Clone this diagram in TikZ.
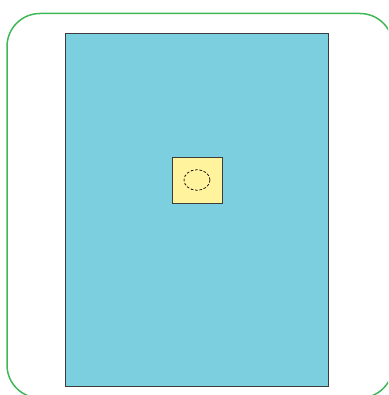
\documentclass[tikz,border=0pt]{standalone}
\usepackage{xcolor}
\usepackage{tikz}
\usetikzlibrary{positioning}
\definecolor{framegreen}{RGB}{62,184,84}
\definecolor{sheetblue}{RGB}{123,207,223}
\definecolor{padyellow}{RGB}{255,243,157}
\definecolor{darkgray}{RGB}{60,60,60}

\begin{document}
\begin{tikzpicture}[x=1pt, y=-1pt,
  frame/.style={draw=framegreen, line width=1.5pt, rounded corners=33pt},
  sheet/.style={draw=darkgray, fill=sheetblue, line width=0.9pt},
  pad/.style={draw=darkgray, fill=padyellow, line width=0.9pt},
  hole/.style={draw=black, line width=0.7pt, dash pattern=on 2.6pt off 1.8pt}]
  \useasboundingbox (0,0) rectangle (388,395);
  \clip (0,0) rectangle (388,395);
  % Outer frame
  \draw[frame] (7,13.5) rectangle (393,398);
  % Sheet
  \draw[sheet] (65,33.3) rectangle (328.5,386.5);
  % Pad with hole
  \draw[pad] (172,157.3) rectangle (222.3,203);
  \draw[hole] (197,180) ellipse [x radius=13, y radius=10.3];
\end{tikzpicture}
\end{document}
